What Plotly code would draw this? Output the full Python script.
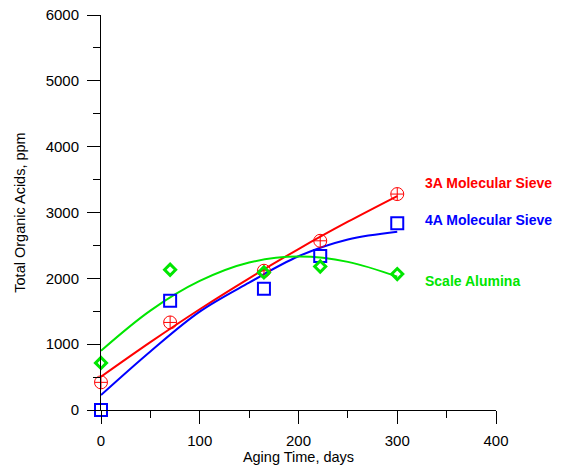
import plotly.graph_objects as go

# Measured total organic acids (ppm) vs aging time (days)
days_3a = [0, 70, 165, 222, 300]
acids_3a = [420, 1330, 2115, 2570, 3280]

days_4a = [0, 70, 165, 222, 300]
acids_4a = [0, 1660, 1840, 2340, 2835]

days_al = [0, 70, 165, 222, 300]
acids_al = [715, 2130, 2090, 2180, 2065]

# Smoothed trend curves sampled along the time axis
curve_days = [0, 50, 100, 150, 200, 250, 300]
curve_3a = [505, 1030, 1530, 2000, 2445, 2860, 3250]
curve_4a = [228, 890, 1495, 1935, 2335, 2590, 2709]
curve_al = [900, 1510, 1960, 2240, 2330, 2250, 2025]

series_names = ["3A Molecular Sieve", "4A Molecular Sieve", "Scale Alumina"]
label_y = [3450, 2885, 1960]

RED = "#ff0000"
BLUE = "#0000ff"
GREEN = "#00e600"
FONT = "Arial, 'Liberation Sans', sans-serif"

fig = go.Figure()

for cx, cy, color in [(curve_days, curve_3a, RED),
                      (curve_days, curve_4a, BLUE),
                      (curve_days, curve_al, GREEN)]:
    fig.add_trace(go.Scatter(x=cx, y=cy, mode="lines",
                             line=dict(color=color, width=2, shape="spline", smoothing=1.0),
                             showlegend=False, hoverinfo="skip"))

fig.add_trace(go.Scatter(x=days_3a, y=acids_3a, mode="markers", cliponaxis=False,
                         marker=dict(symbol="circle-cross-open", size=13, color=RED,
                                     line=dict(color=RED, width=1)),
                         name=series_names[0], showlegend=False))
fig.add_trace(go.Scatter(x=days_4a, y=acids_4a, mode="markers", cliponaxis=False,
                         marker=dict(symbol="square-open", size=12, color=BLUE,
                                     line=dict(color=BLUE, width=2)),
                         name=series_names[1], showlegend=False))
fig.add_trace(go.Scatter(x=days_al, y=acids_al, mode="markers", cliponaxis=False,
                         marker=dict(symbol="diamond-open", size=8.5, color=GREEN,
                                     line=dict(color=GREEN, width=3)),
                         name=series_names[2], showlegend=False))

for name, yv, color in zip(series_names, label_y, [RED, BLUE, GREEN]):
    fig.add_annotation(x=326, y=yv, xref="x", yref="y", text=name, showarrow=False,
                       xanchor="left", yanchor="middle",
                       font=dict(family=FONT, size=14, color=color, weight="bold"))

axis_common = dict(
    showline=True, linecolor="black", linewidth=1,
    ticks="outside", ticklen=13, tickwidth=1, tickcolor="black",
    showgrid=False, zeroline=False, automargin=False,
    tickfont=dict(family=FONT, size=15, color="black"),
)

fig.update_xaxes(range=[0, 400], dtick=100, tick0=0,
                 minor=dict(ticks="outside", ticklen=7, dtick=50, tickcolor="black"),
                 title=dict(text="Aging Time, days", standoff=3,
                            font=dict(family=FONT, size=14.5, color="black")),
                 ticklabelstandoff=4,
                 **axis_common)
fig.update_yaxes(range=[0, 6000], dtick=1000, tick0=0,
                 minor=dict(ticks="outside", ticklen=7, dtick=500, tickcolor="black"),
                 title=dict(text="Total Organic Acids, ppm", standoff=16,
                            font=dict(family=FONT, size=14.5, color="black")),
                 ticklabelstandoff=5,
                 **axis_common)

fig.update_layout(
    width=561, height=470,
    margin=dict(l=101, r=65, t=15, b=60),
    plot_bgcolor="white", paper_bgcolor="white",
    font=dict(family=FONT, color="black"),
)

fig.write_html("out.html")
